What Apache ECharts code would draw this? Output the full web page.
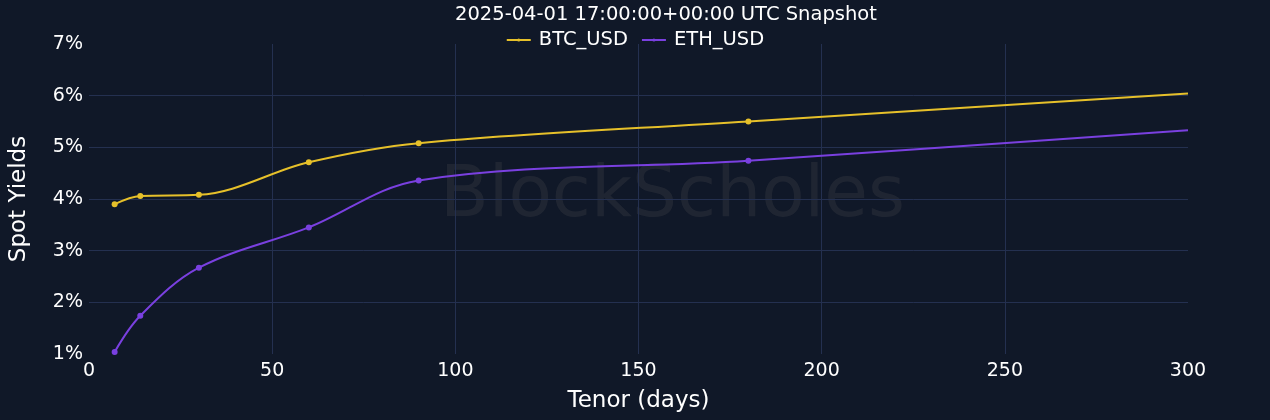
<!DOCTYPE html>
<html>
<head>
<meta charset="utf-8">
<script src="https://cdn.jsdelivr.net/npm/echarts@6/dist/echarts.min.js"></script>
<style>
html,body{margin:0;padding:0;background:#101828;}
#c{width:1270px;height:420px;}
</style>
</head>
<body>
<div id="c"></div>
<script>
const tenors = [7, 14, 30, 60, 90, 180, 300];
const btcYields = [3.90, 4.06, 4.08, 4.71, 5.08, 5.50, 6.04];
const ethYields = [1.04, 1.74, 2.67, 3.45, 4.36, 4.74, 5.33];
const seriesNames = ['BTC_USD', 'ETH_USD'];
const titleText = '2025-04-01 17:00:00+00:00 UTC Snapshot';

function pts(vals) {
  return tenors.map((t, i) => {
    const p = {value: [t, vals[i]]};
    if (i === tenors.length - 1) p.symbolSize = 0;
    return p;
  });
}

const chart = echarts.init(document.getElementById('c'));
const font = 'DejaVu Sans';
chart.setOption({
  backgroundColor: '#101828',
  animation: false,
  title: {
    text: titleText, left: 450, top: 0,
    textStyle: {color: '#ffffff', fontSize: 19.5, fontWeight: 'normal', fontFamily: font}
  },
  legend: {
    top: 25, left: 'center', itemGap: 13, itemWidth: 24, itemHeight: 4,
    textStyle: {color: '#ffffff', fontSize: 19.5, fontFamily: font, padding: [0, 0, 0, 3]},
    data: seriesNames
  },
  graphic: [{
    type: 'text', left: 440, top: 162, z: 0, silent: true,
    style: {text: 'BlockScholes', fontSize: 71, fontFamily: font, fill: 'rgba(140,130,120,0.13)'}
  }],
  grid: {left: 89, right: 82, top: 44, bottom: 66, containLabel: false, outerBoundsMode: 'none'},
  xAxis: {
    type: 'value', min: 0, max: 300, interval: 50,
    name: 'Tenor (days)', nameLocation: 'middle', nameGap: 36,
    nameTextStyle: {color: '#ffffff', fontSize: 23, fontFamily: font},
    axisLine: {show: false}, axisTick: {show: false},
    axisLabel: {color: '#ffffff', fontSize: 19, fontFamily: font, margin: 8},
    splitLine: {show: true, showMinLine: false, showMaxLine: false, lineStyle: {color: '#243050', width: 1}}
  },
  yAxis: {
    type: 'value', min: 1, max: 7, interval: 1,
    name: 'Spot Yields', nameLocation: 'middle', nameGap: 58,
    nameTextStyle: {color: '#ffffff', fontSize: 23, fontFamily: font},
    axisLine: {show: false}, axisTick: {show: false},
    axisLabel: {color: '#ffffff', fontSize: 19, fontFamily: font, margin: 6, formatter: v => v + '%'},
    splitLine: {show: true, showMinLine: false, showMaxLine: false, lineStyle: {color: '#243050', width: 1}}
  },
  series: [
    {
      name: seriesNames[0], type: 'line', smooth: 0.35, data: pts(btcYields),
      symbol: 'circle', symbolSize: 6, z: 3,
      itemStyle: {color: '#e6c02a'}, lineStyle: {color: '#e6c02a', width: 2}
    },
    {
      name: seriesNames[1], type: 'line', smooth: 0.35, data: pts(ethYields),
      symbol: 'circle', symbolSize: 6, z: 3,
      itemStyle: {color: '#7a40e0'}, lineStyle: {color: '#7a40e0', width: 2}
    }
  ]
});
</script>
</body>
</html>
